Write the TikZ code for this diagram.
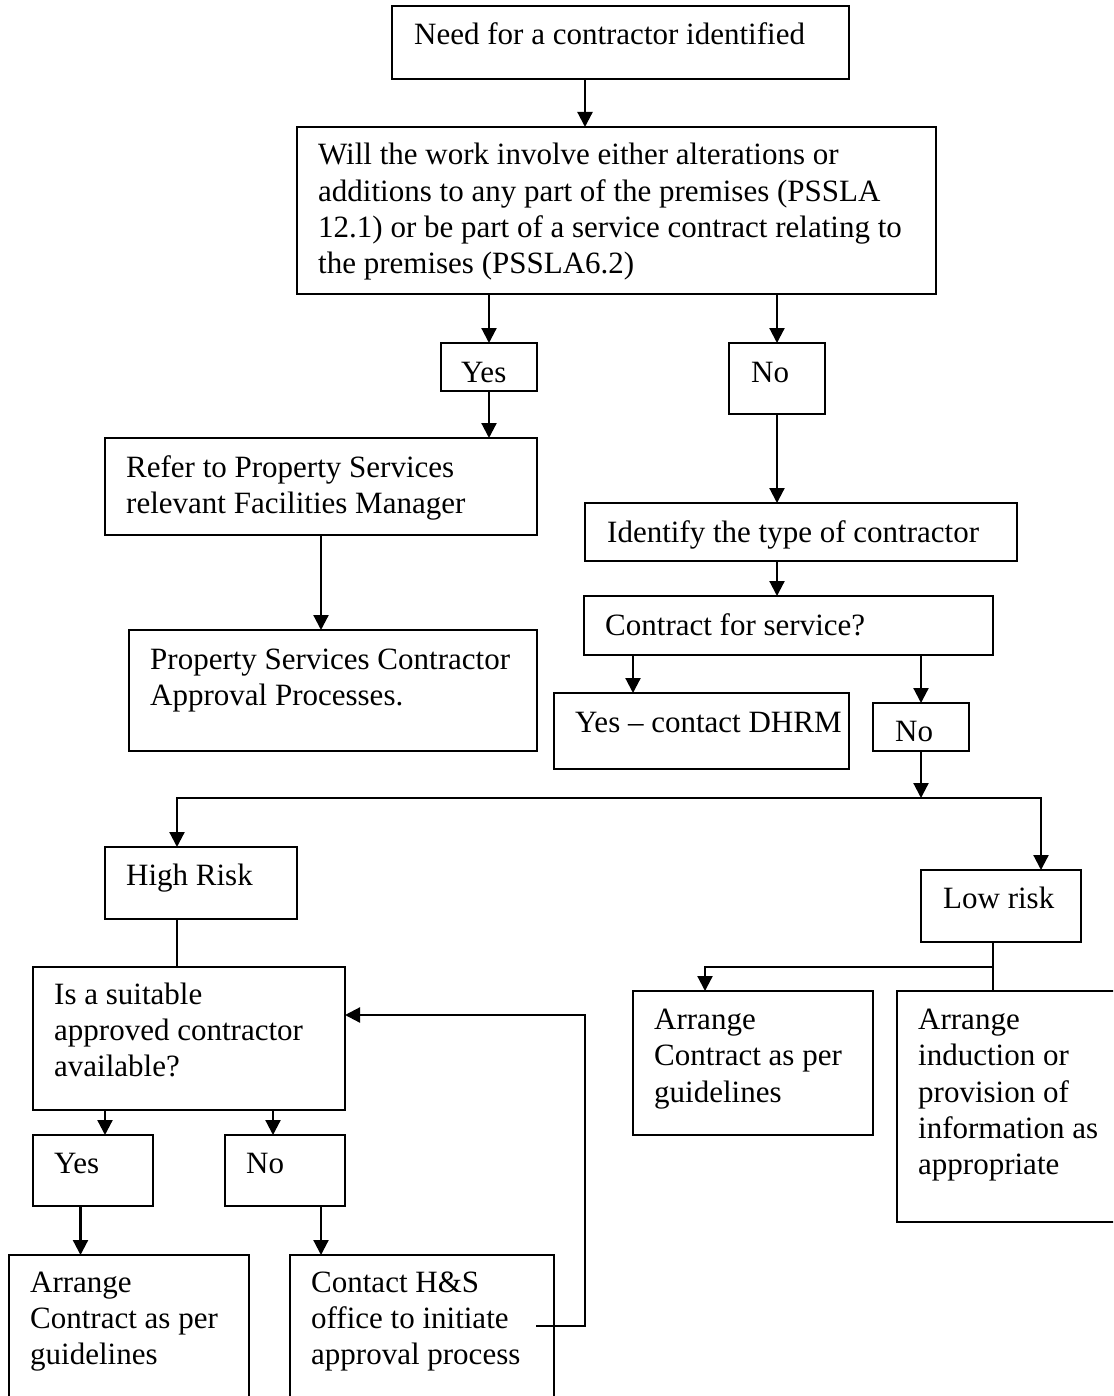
\documentclass[tikz,border=0pt]{standalone}
\usepackage{fontspec}
\setmainfont{Liberation Serif}
\usetikzlibrary{arrows.meta}
\newcommand\mlines[1]{\begin{tabular}[t]{@{}l@{}}#1\end{tabular}}
\begin{document}
\begin{tikzpicture}[x=1pt,y=-1pt,
  box/.style={draw, line width=2.2pt, rectangle, inner sep=0pt, outer sep=0pt, anchor=north west},
  txt/.style={anchor=base west, inner sep=0pt, font=\fontsize{31}{36.3}\selectfont},
  arr/.style={line width=2.2pt, -{Triangle[width=15pt,length=15pt]}},
  arrs/.style={line width=2.2pt, {Triangle[width=15pt,length=15pt]}-{Triangle[width=15pt,length=15pt]}},
  con/.style={line width=2.2pt}]
\useasboundingbox (0,0) rectangle (1113,1396);
\clip (0,0) rectangle (1113,1396);

% boxes
\node[box, minimum width=457, minimum height=73]  (b1)  at (392,6) {};
\node[box, minimum width=639, minimum height=167] (b2)  at (297,127) {};
\node[box, minimum width=96,  minimum height=48]  (b3)  at (441,343) {};
\node[box, minimum width=96,  minimum height=71]  (b4)  at (729,343) {};
\node[box, minimum width=432, minimum height=97]  (b5)  at (105,438) {};
\node[box, minimum width=408, minimum height=121] (b6)  at (129,630) {};
\node[box, minimum width=432, minimum height=58]  (b7)  at (585,503) {};
\node[box, minimum width=409, minimum height=59]  (b8)  at (584,596) {};
\node[box, minimum width=295, minimum height=76]  (b9)  at (554,693) {};
\node[box, minimum width=96,  minimum height=48]  (b10) at (873,703) {};
\node[box, minimum width=192, minimum height=72]  (b11) at (105,847) {};
\node[box, minimum width=160, minimum height=72]  (b12) at (921,870) {};
\node[box, minimum width=312, minimum height=143] (b13) at (33,967) {};
\node[box, minimum width=120, minimum height=71]  (b14) at (33,1135) {};
\node[box, minimum width=120, minimum height=71]  (b15) at (225,1135) {};
\node[box, minimum width=240, minimum height=160] (b16) at (9,1255) {};
\node[box, minimum width=264, minimum height=160] (b17) at (290,1255) {};
\node[box, minimum width=240, minimum height=144] (b18) at (633,991) {};
\node[box, minimum width=230, minimum height=231] (b19) at (897,991) {};

% texts
\node[txt] (t1)  at ([shift={(22,39)}]b1.north west) {Need for a contractor identified};
\node[txt] (t2)  at ([shift={(21,38)}]b2.north west) {\mlines{Will the work involve either alterations or\\additions to any part of the premises (PSSLA\\12.1) or be part of a service contract relating to\\the premises (PSSLA6.2)}};
\node[txt] (t3)  at ([shift={(20,39)}]b3.north west) {Yes};
\node[txt] (t4)  at ([shift={(22,39)}]b4.north west) {No};
\node[txt] (t5)  at ([shift={(21,39)}]b5.north west) {\mlines{Refer to Property Services\\relevant Facilities Manager}};
\node[txt] (t6)  at ([shift={(21,39)}]b6.north west) {\mlines{Property Services Contractor\\Approval Processes.}};
\node[txt] (t7)  at ([shift={(22,39)}]b7.north west) {Identify the type of contractor};
\node[txt] (t8)  at ([shift={(21,39)}]b8.north west) {Contract for service?};
\node[txt] (t9)  at ([shift={(21,39)}]b9.north west) {Yes – contact DHRM};
\node[txt] (t10) at ([shift={(22,38)}]b10.north west) {No};
\node[txt] (t11) at ([shift={(21,38)}]b11.north west) {High Risk};
\node[txt] (t12) at ([shift={(22,38.5)}]b12.north west) {Low risk};
\node[txt] (t13) at ([shift={(21,37)}]b13.north west) {\mlines{Is a suitable\\approved contractor\\available?}};
\node[txt] (t14) at ([shift={(21,38)}]b14.north west) {Yes};
\node[txt] (t15) at ([shift={(21,38)}]b15.north west) {No};
\node[txt] (t16) at ([shift={(21,37)}]b16.north west) {\mlines{Arrange\\Contract as per\\guidelines}};
\node[txt] (t17) at ([shift={(21,37)}]b17.north west) {\mlines{Contact H\&S\\office to initiate\\approval process}};
\node[txt] (t18) at ([shift={(21,38.5)}]b18.north west) {\mlines{Arrange\\Contract as per\\guidelines}};
\node[txt] (t19) at ([shift={(21,38.5)}]b19.north west) {\mlines{Arrange\\induction or\\provision of\\information as\\appropriate}};

% helper coordinates
\coordinate (jl) at (177,798);
\coordinate (jr) at (1041,798);
\coordinate (jm) at (921,798);
\coordinate (j2) at (993,967);
\coordinate (fb) at (536,1326);

% connectors
\draw[arr] (b1.south -| 585,0) -- (b2.north -| 585,0);
\draw[arr] (b2.south -| b3.north) -- (b3.north);
\draw[arr] (b2.south -| b4.north) -- (b4.north);
\draw[arr] (b3.south) -- (b5.north -| b3.south);
\draw[arr] (b5.south) -- (b6.north -| b5.south);
\draw[arr] (b4.south) -- (b7.north -| b4.south);
\draw[arr] (b7.south -| b4.south) -- (b8.north -| b4.south);
\draw[arr] (b8.south -| 633,0) -- (b9.north -| 633,0);
\draw[arr] (b8.south -| b10.north) -- (b10.north);
\draw[arr] (b10.south) -- (jm);
\draw[arrs] (b11.north -| jl) -- (jl) -- (jr) -- (b12.north -| jr);
\draw[con] (b11.south -| jl) -- (b13.north -| jl);
\draw[arr] (b13.south -| 105,0) -- (b14.north -| 105,0);
\draw[arr] (b13.south -| 273,0) -- (b15.north -| 273,0);
\draw[arr] (b14.south -| 80.5,0) -- (b16.north -| 80.5,0);
\draw[arr] (b15.south -| 321,0) -- (b17.north -| 321,0);
\draw[arr] (fb) -- (fb -| 585,0) |- (b13.east |- 0,1015);
\draw[con] (b12.south -| j2) -- (b19.north -| j2);
\draw[arr] (j2) -| (b18.north -| 705,0);
\end{tikzpicture}
\end{document}
